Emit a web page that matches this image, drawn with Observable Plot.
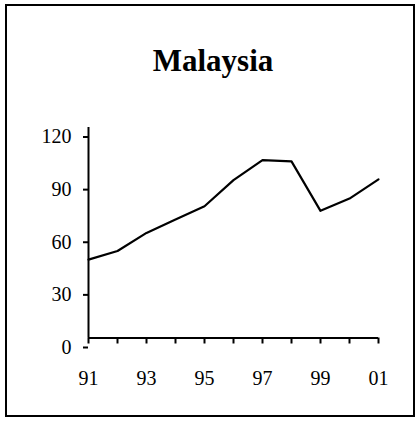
<!DOCTYPE html>
<html>
<head>
<meta charset="utf-8">
<script src="https://cdn.jsdelivr.net/npm/d3@7"></script>
<script src="https://cdn.jsdelivr.net/npm/@observablehq/plot@0.6"></script>
<style>
  html, body { margin: 0; padding: 0; background: #fff; }
  #wrap { position: relative; width: 419px; height: 421px; overflow: hidden; font-family: "Liberation Serif", "Times New Roman", serif; }
  #wrap svg { position: absolute; left: 0; top: 0; }
  #title { position: absolute; left: 0; width: 426px; top: 45px; text-align: center; font-weight: bold; font-size: 31px; line-height: 1; color: #000; }
  #border { position: absolute; left: 5px; top: 4px; width: 406px; height: 409px; border: 2px solid #000; pointer-events: none; }
</style>
</head>
<body>
<div id="wrap">
  <div id="border"></div>
  <div id="title">Malaysia</div>
</div>
<script>
const title = "Malaysia";
const years = [1991, 1992, 1993, 1994, 1995, 1996, 1997, 1998, 1999, 2000, 2001];
const values = [44.7, 49.6, 59.9, 67.5, 75.1, 90.0, 101.4, 100.7, 72.5, 79.5, 90.4];
const yTicks = [0, 30, 60, 90, 120];
const xLabelYears = [1991, 1993, 1995, 1997, 1999, 2001];

const data = years.map((y, i) => ({year: y, value: values[i]}));
const fmt = d => String(d % 100).padStart(2, "0");

const chart = Plot.plot({
  width: 419,
  height: 421,
  marginLeft: 88,
  marginRight: 41,
  marginTop: 127,
  marginBottom: 83.5,
  style: {fontFamily: "'Liberation Serif', 'Times New Roman', serif", fontSize: "20px", color: "#000", background: "transparent"},
  x: {domain: [1991, 2001]},
  y: {domain: [0, 120]},
  marks: [
    Plot.axisX(years, {tickSize: 6, strokeWidth: 2, tickFormat: () => "", label: null}),
    Plot.axisX(xLabelYears, {tickSize: 0, tickPadding: 32.7, tickFormat: fmt, label: null, fontSize: 20}),
    Plot.axisY(yTicks, {tickSize: 5, strokeWidth: 2, tickPadding: 12, dy: 9.5, label: null, fontSize: 20}),
    Plot.ruleX([years[0]], {y1: 0, y2: 120, strokeWidth: 2}),
    Plot.ruleY([0], {x1: years[0], x2: years[years.length - 1], strokeWidth: 2}),
    Plot.line(data, {x: "year", y: "value", stroke: "#000", strokeWidth: 2.2})
  ]
});
document.getElementById("wrap").prepend(chart);
document.getElementById("title").textContent = title;
</script>
</body>
</html>
